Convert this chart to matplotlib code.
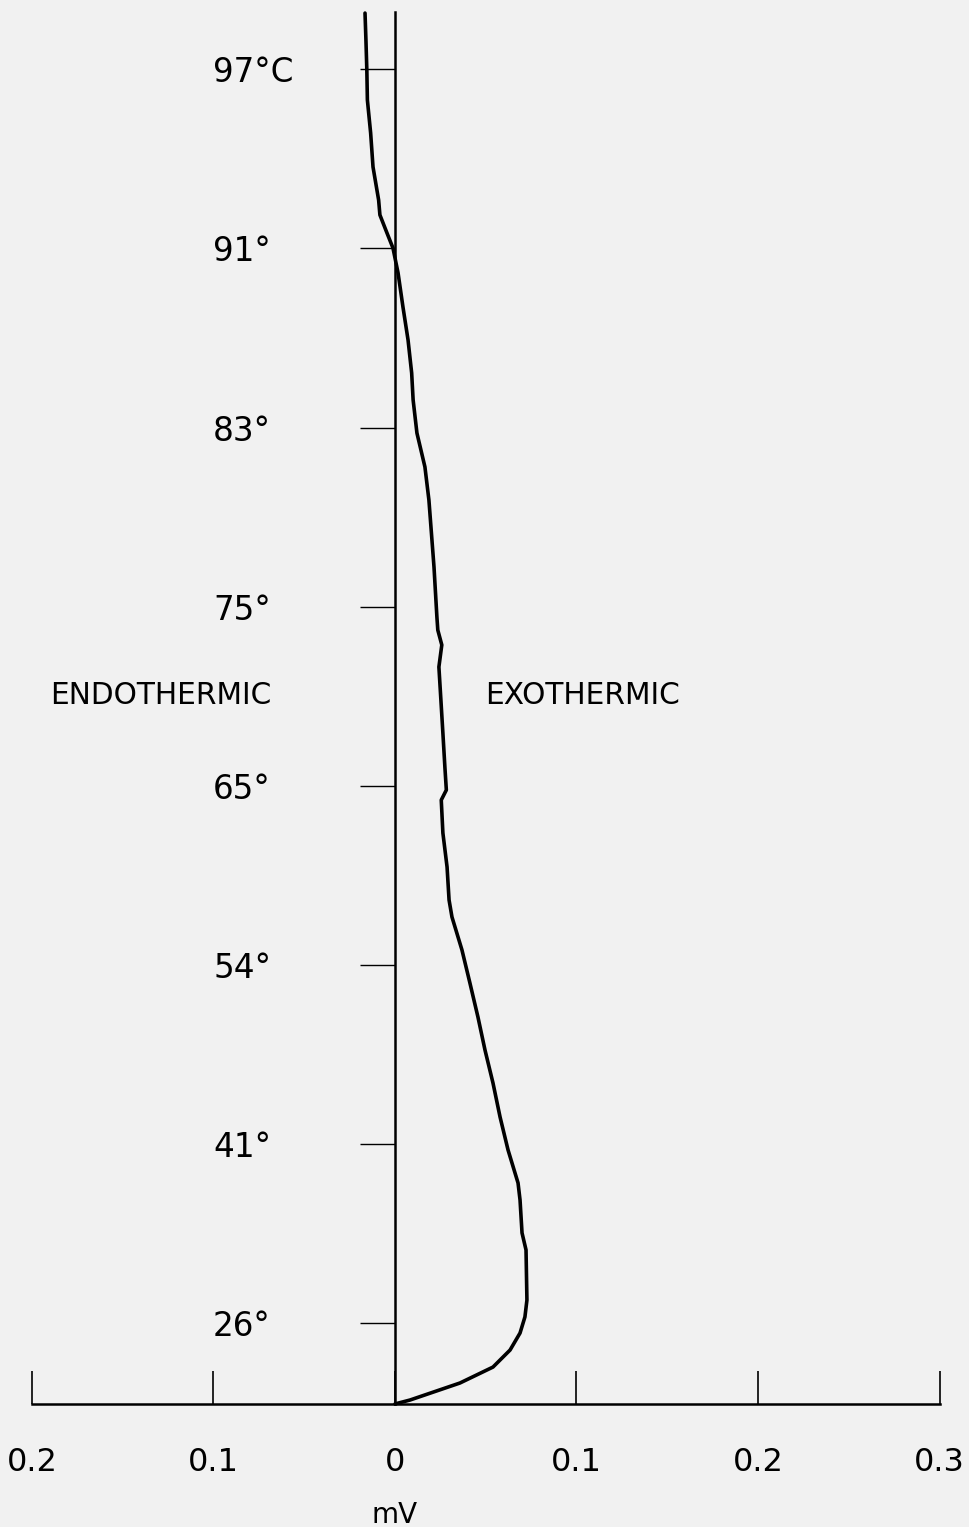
import matplotlib
matplotlib.use('agg')
import matplotlib.pyplot as plt

# DTA trace: signal (mV, + = exothermic) against chart position (tick divisions)
trace_mv = [-0.0165, -0.0160, -0.0155, -0.0152, -0.0134, -0.0121, -0.0090, -0.0083,
            -0.0044, -0.0011, 0.0017, 0.0044, 0.0072, 0.0092, 0.0100, 0.0121,
            0.0165, 0.0187, 0.0215, 0.0231, 0.0236, 0.0258, 0.0242, 0.0253,
            0.0264, 0.0275, 0.0283, 0.0255, 0.0264, 0.0287, 0.0298, 0.0314,
            0.0369, 0.0413, 0.0457, 0.0496, 0.0540, 0.0579, 0.0623, 0.0678,
            0.0689, 0.0700, 0.0722, 0.0727, 0.0716, 0.0689, 0.0634, 0.0540,
            0.0358, 0.0083, 0.0]
trace_pos = [8.314, 8.164, 7.996, 7.829, 7.644, 7.455, 7.270, 7.187,
             7.086, 7.002, 6.863, 6.673, 6.489, 6.304, 6.154, 5.969,
             5.780, 5.595, 5.221, 4.942, 4.869, 4.786, 4.663, 4.479,
             4.294, 4.104, 3.976, 3.920, 3.736, 3.546, 3.362, 3.267,
             3.083, 2.898, 2.709, 2.524, 2.340, 2.150, 1.966, 1.782,
             1.687, 1.503, 1.408, 1.128, 1.034, 0.944, 0.849, 0.754,
             0.665, 0.570, 0.548]

temp_pos = [1, 2, 3, 4, 5, 6, 7, 8]
temp_labels = ['26°', '41°', '54°', '65°', '75°', '83°', '91°', '97°C']
mv_ticks = [-0.2, -0.1, 0.0, 0.1, 0.2, 0.3]
mv_labels = ['0.2', '0.1', '0', '0.1', '0.2', '0.3']

base = 0.548   # chart position of the mV axis
top = 8.318    # top end of the zero line

bg = '#f1f1f1'
fig = plt.figure(figsize=(9.7, 15.27), dpi=100, facecolor=bg)
ax = fig.add_axes([0, 0, 1, 1], facecolor=bg)

ax.plot(trace_mv, trace_pos, color='black', lw=2.6, solid_capstyle='round',
        solid_joinstyle='round')

ax.set_xlim(-0.2176, 0.3168)
ax.set_ylim(-0.139, 8.387)

for s in ['top', 'right']:
    ax.spines[s].set_visible(False)
ax.spines['left'].set_position(('data', 0))
ax.spines['left'].set_bounds(base, top)
ax.spines['left'].set_linewidth(1.8)
ax.spines['bottom'].set_position(('data', base))
ax.spines['bottom'].set_bounds(-0.2, 0.3)
ax.spines['bottom'].set_linewidth(1.8)

ax.set_yticks(temp_pos)
ax.set_yticklabels(temp_labels)
ax.tick_params(axis='y', direction='out', length=25, width=1.0, pad=106,
               labelsize=23.5)
for lab in ax.get_yticklabels():
    lab.set_horizontalalignment('left')

ax.set_xticks(mv_ticks)
ax.set_xticklabels(mv_labels)
ax.tick_params(axis='x', direction='in', length=24, width=1.2, pad=31,
               labelsize=23)

ax.text(0.0, -0.07, 'mV', ha='center', va='center', fontsize=20)
ax.text(-0.190, 4.506, 'ENDOTHERMIC', ha='left', va='center', fontsize=21.3)
ax.text(0.0496, 4.506, 'EXOTHERMIC', ha='left', va='center', fontsize=21.3)

plt.savefig('out.png', dpi=100, facecolor=bg)
